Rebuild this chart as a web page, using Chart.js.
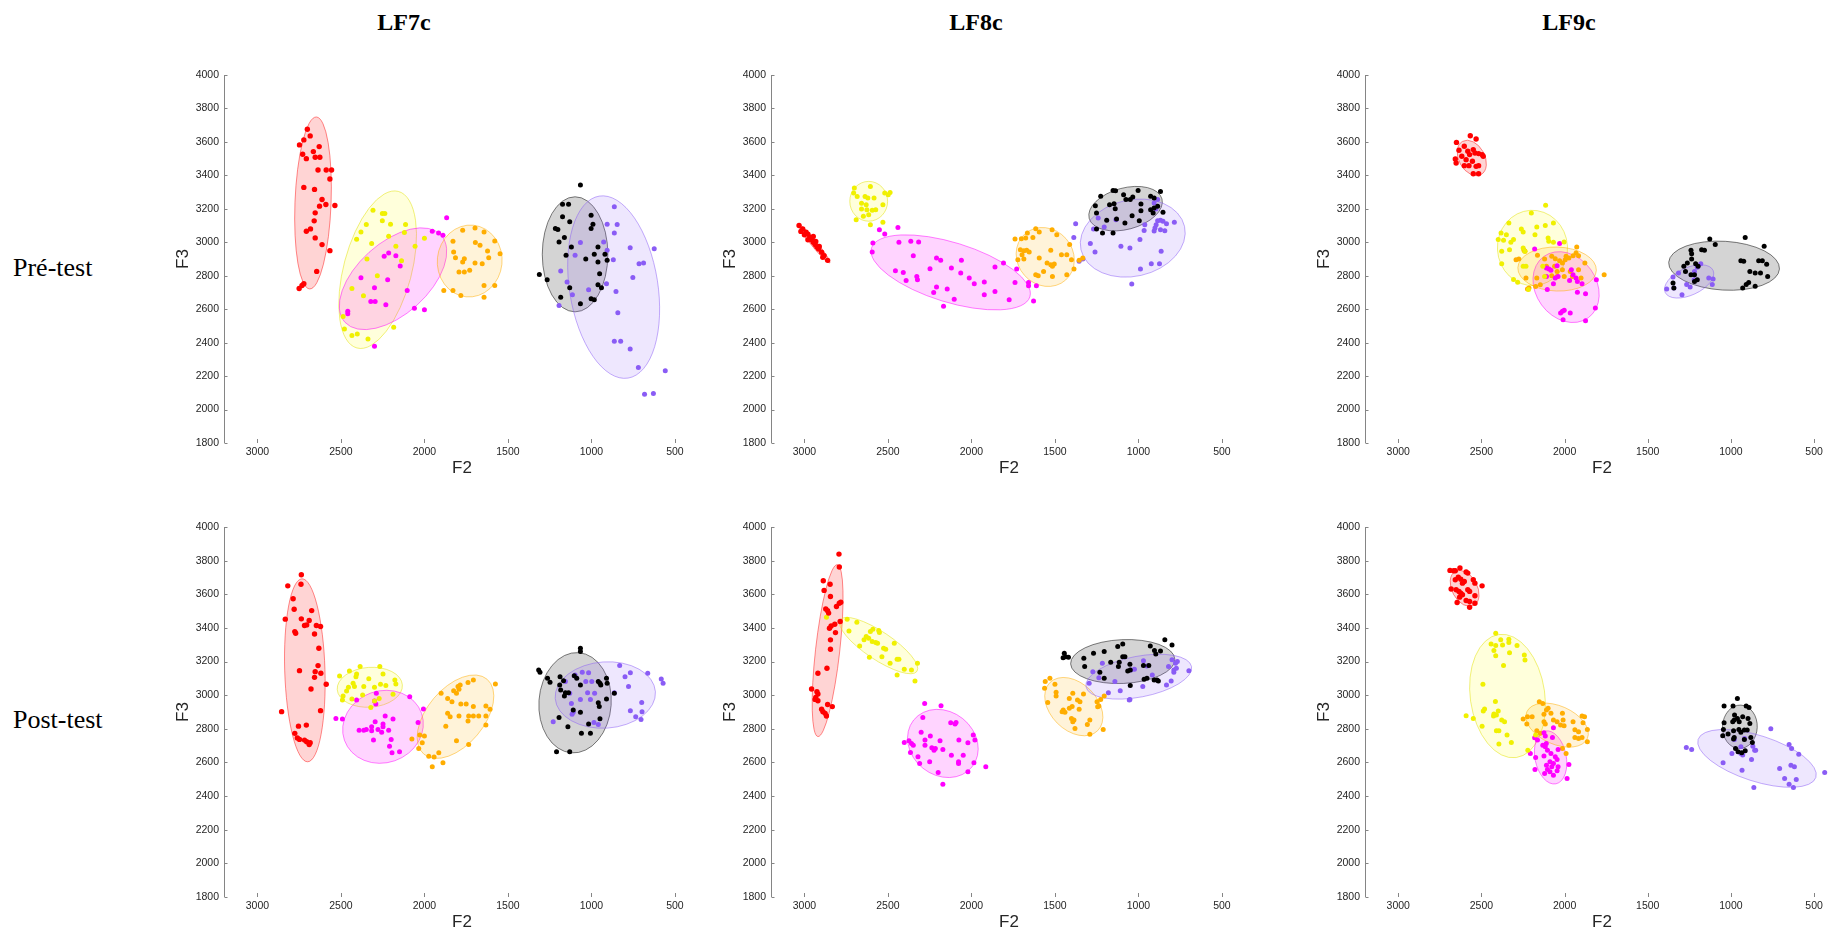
<!DOCTYPE html>
<html>
<head>
<meta charset="utf-8">
<script src="https://cdn.jsdelivr.net/npm/chart.js@4.4.0/dist/chart.umd.min.js"></script>
<style>
  html, body { margin: 0; padding: 0; background: #fff; }
  body { width: 1843px; height: 938px; position: relative; overflow: hidden; }
  .panel { position: absolute; }
  .title { position: absolute; font-family: "Liberation Serif", "Times New Roman", serif; font-weight: bold; font-size: 24px; line-height: 1; transform: translate(-50%, -50%); white-space: nowrap; color: #000; }
  .row { position: absolute; font-family: "Liberation Serif", "Times New Roman", serif; font-size: 26px; line-height: 1; transform: translateY(-50%); white-space: nowrap; color: #000; }
</style>
</head>
<body>
<div class="title" style="left:404px; top:22px;">LF7c</div>
<div class="title" style="left:976px; top:22px;">LF8c</div>
<div class="title" style="left:1569px; top:22px;">LF9c</div>
<div class="row" style="left:13px; top:268px;">Pré-test</div>
<div class="row" style="left:13px; top:720px;">Post-test</div>
<script>
// axis ticks
const f2Ticks = [3000, 2500, 2000, 1500, 1000, 500];
const f3Ticks = [1800, 2000, 2200, 2400, 2600, 2800, 3000, 3200, 3400, 3600, 3800, 4000];

// series order in every panel: red, yellow, magenta, orange, black, purple
const pointColors = ['#ff0000', '#f0f000', '#ff00ff', '#ffad00', '#000000', '#8a5cf5'];
const ellipseFill = ['rgba(255,0,0,0.17)', 'rgba(255,255,0,0.14)', 'rgba(255,0,255,0.17)', 'rgba(255,173,0,0.15)', 'rgba(0,0,0,0.17)', 'rgba(138,92,245,0.15)'];
const ellipseLine = ['rgba(255,0,0,0.45)', 'rgba(225,225,0,0.5)', 'rgba(255,0,255,0.5)', 'rgba(255,173,0,0.5)', 'rgba(0,0,0,0.5)', 'rgba(138,92,245,0.5)'];

// ellipses: [centreF2, centreF3, majorEndF2, majorEndF3, minor/major ratio]

// ---- LF7c, pre-test ----
const lf7cPreRed = [[2748,3582],[2722,3612],[2684,3636],[2701,3676],[2729,3526],[2707,3500],[2665,3542],[2654,3508],[2626,3508],[2630,3572],[2637,3432],[2588,3432],[2556,3432],[2566,3378],[2722,3328],[2658,3316],[2613,3256],[2536,3220],[2628,3216],[2590,3226],[2654,3176],[2660,3128],[2707,3066],[2682,3080],[2654,3026],[2613,2986],[2566,2950],[2645,2826],[2750,2724],[2733,2742],[2722,2752]];
const lf7cPreYellow = [[2308,3192],[2252,3172],[2237,3172],[2252,3128],[2203,3108],[2113,3106],[2348,3106],[2380,3062],[2406,3018],[2214,3036],[2120,3058],[2000,3024],[2056,2976],[2171,2976],[2344,2900],[2137,2890],[2282,2800],[2434,2724],[2365,2680],[2487,2556],[2479,2482],[2434,2442],[2402,2452],[2338,2422],[2184,2492],[2316,2992]];
const lf7cPreMagenta = [[1867,3146],[1953,3066],[1915,3056],[1889,3042],[2241,2916],[2214,2936],[2171,2920],[2145,2858],[2380,2788],[2220,2776],[2299,2728],[2103,2712],[2321,2646],[2295,2646],[2231,2626],[2060,2606],[2000,2596],[2459,2588],[2459,2572],[2299,2378]];
const lf7cPreOrange = [[1771,3072],[1697,3086],[1829,3006],[1643,3062],[1579,3008],[1695,2998],[1667,2982],[1825,2942],[1814,2908],[1761,2902],[1771,2882],[1622,2948],[1615,2908],[1547,2932],[1697,2876],[1654,2872],[1793,2822],[1761,2822],[1729,2832],[1643,2742],[1579,2742],[1884,2712],[1829,2712],[1782,2682],[1643,2672]];
const lf7cPreBlack = [[1066,3342],[1173,3228],[1137,3228],[1173,3152],[1130,3122],[1216,3082],[1201,3076],[1162,3028],[1194,3002],[1002,3162],[991,3108],[1002,3082],[1120,2972],[961,2972],[983,2928],[919,2928],[1152,2922],[1034,2900],[961,2882],[906,2892],[1312,2808],[1265,2776],[951,2812],[940,2728],[961,2746],[1130,2728],[1184,2672],[1002,2662],[983,2656],[1066,2632]];
const lf7cPrePurple = [[863,3212],[906,3108],[846,3106],[863,3056],[927,3002],[1066,2998],[768,2968],[624,2962],[906,2952],[1098,2922],[869,2896],[1184,2828],[715,2872],[688,2876],[752,2790],[1146,2762],[910,2752],[1114,2686],[853,2706],[1017,2716],[1194,2622],[842,2578],[863,2408],[825,2408],[768,2362],[719,2252],[558,2232],[682,2092],[629,2096]];
const lf7cPreEllipses = [[2667,3235,2647,3749,0.21],[2280,2836,2156,3304,0.42],[2188,2782,1900,3042,0.55],[1729,2888,1707,3102,0.9],[1098,2928,1098,3272,0.57],[867,2732,953,3276,0.48]];

// ---- LF8c, pre-test ----
const lf8cPreRed = [[3032,3100],[3021,3065],[3000,3045],[2979,3049],[2968,3031],[2957,3015],[2947,3000],[2936,2986],[2925,2972],[2915,2960],[2897,2940],[2882,2920],[2861,2892],[2979,3015],[2947,3035],[2932,3005],[2911,2975],[3010,3080],[2990,3060],[2890,2910]];
const lf8cPreYellow = [[2701,3324],[2705,3294],[2605,3334],[2684,3274],[2637,3274],[2620,3264],[2583,3264],[2519,3294],[2498,3284],[2487,3298],[2658,3234],[2630,3225],[2530,3225],[2658,3199],[2626,3195],[2594,3191],[2573,3195],[2647,3155],[2615,3165],[2690,3135],[2605,3105],[2530,3119]];
const lf8cPreMagenta = [[2551,3075],[2519,3049],[2440,3089],[2590,2996],[2594,2942],[2434,3000],[2363,3006],[2316,3002],[2348,2920],[2209,2906],[2184,2892],[2060,2892],[2248,2842],[2455,2830],[2408,2820],[2327,2796],[2323,2776],[2391,2772],[2120,2846],[2064,2816],[2013,2786],[1983,2752],[1923,2762],[1859,2852],[1808,2876],[2209,2732],[2226,2700],[2145,2720],[2103,2660],[1923,2686],[1859,2706],[1774,2657],[2167,2617],[1739,2760],[1658,2760],[1658,2740],[1729,2840],[1611,2740],[1628,2649]];
const lf8cPreOrange = [[1739,3019],[1701,3021],[1675,3025],[1665,3055],[1615,3081],[1632,3029],[1594,3061],[1517,3075],[1489,3045],[1412,2986],[1707,2956],[1686,2950],[1669,2952],[1654,2942],[1697,2926],[1686,2900],[1722,2896],[1594,2906],[1525,2952],[1461,2926],[1429,2926],[1547,2876],[1525,2866],[1504,2870],[1515,2856],[1401,2896],[1386,2840],[1429,2806],[1615,2806],[1600,2800],[1568,2826],[1515,2796],[1355,2892],[1333,2906]];
const lf8cPreBlack = [[1226,3275],[1152,3310],[1137,3308],[1089,3284],[1034,3271],[1002,3310],[927,3275],[906,3265],[868,3304],[1258,3219],[1251,3175],[1173,3225],[1146,3231],[1139,3201],[1075,3255],[1049,3255],[985,3229],[985,3189],[927,3195],[906,3205],[885,3215],[912,3175],[853,3179],[1190,3131],[1131,3139],[1081,3115],[1038,3159],[995,3129],[1251,3079],[1215,3055],[1152,3055]];
const lf8cPrePurple = [[1376,3111],[1387,3029],[1269,3079],[1241,3145],[1205,3091],[1135,3135],[1288,2992],[1260,2942],[1355,2886],[1333,2900],[1105,2976],[1051,2966],[991,3016],[966,3071],[906,3067],[962,3105],[901,3085],[894,3105],[885,3129],[868,3131],[853,3125],[832,3111],[785,3119],[906,3235],[885,3255],[896,3199],[868,3075],[842,3069],[864,2946],[988,2840],[923,2872],[874,2872],[1040,2750]];
const lf8cPreEllipses = [[2942,2992,3036,3107,0.12],[2615,3245,2615,3364,0.95],[2124,2820,2598,2966,0.36],[1558,2912,1680,3050,0.9],[1077,3201,859,3259,0.55],[1034,3025,724,3095,0.72]];

// ---- LF9c, pre-test ----
const lf9cPreRed = [[2650,3597],[2567,3637],[2532,3617],[2635,3550],[2603,3574],[2582,3544],[2571,3524],[2549,3554],[2539,3534],[2517,3530],[2496,3524],[2489,3514],[2618,3514],[2592,3494],[2657,3498],[2652,3474],[2554,3484],[2603,3458],[2575,3458],[2532,3454],[2517,3458],[2549,3410],[2517,3410]];
const lf9cPreYellow = [[2114,3221],[2200,3175],[2335,3115],[2260,3079],[2249,3061],[2167,3091],[2067,3115],[2116,3101],[2382,3055],[2350,3045],[2307,3016],[2323,3000],[2367,3012],[2399,3016],[2178,3045],[2099,3025],[2095,3006],[2067,3000],[2003,3002],[2249,2966],[2239,2946],[2378,2946],[2331,2956],[2378,2872],[2249,2856],[2232,2856],[2131,2856],[2307,2777],[2282,2761],[2217,2717],[2120,2796]];
const lf9cPreMagenta = [[2180,2960],[2030,2992],[2109,2846],[2094,2840],[2082,2832],[2045,2860],[1959,2836],[1949,2806],[1931,2786],[2109,2796],[2056,2786],[2039,2796],[2067,2752],[1970,2772],[1923,2766],[1895,2752],[2104,2717],[1923,2701],[1874,2693],[1809,2776],[1815,2607],[2013,2587],[2024,2577],[2002,2593],[1966,2577],[2009,2537],[1874,2531]];
const lf9cPreOrange = [[2238,2946],[2244,2952],[2292,2896],[2275,2900],[2163,2922],[2120,2900],[2077,2916],[2056,2902],[2030,2890],[2013,2876],[1996,2896],[1974,2906],[1949,2920],[1931,2936],[1927,2972],[1991,2916],[2109,2856],[2060,2856],[2045,2826],[2013,2836],[2077,2800],[2045,2796],[2002,2796],[1966,2826],[1953,2796],[1916,2836],[1901,2786],[1762,2806],[2232,2786],[2167,2786],[2174,2736],[2223,2721],[2214,2727],[2146,2746],[1916,2920],[1878,2876]];
const lf9cPreBlack = [[1127,3019],[1094,2986],[914,3029],[800,2976],[1240,2952],[1236,2932],[1176,2956],[1159,2952],[1236,2900],[1283,2856],[1262,2876],[1212,2872],[1197,2856],[1273,2826],[1240,2806],[1219,2806],[1219,2766],[1202,2776],[1348,2756],[1343,2727],[940,2890],[923,2886],[833,2890],[811,2890],[785,2868],[886,2826],[854,2816],[822,2816],[779,2796],[893,2760],[908,2747],[929,2727],[854,2737]];
const lf9cPrePurple = [[1386,2721],[1348,2792],[1315,2816],[1343,2727],[1294,2687],[1266,2747],[1245,2733],[1219,2826],[1202,2850],[1181,2872],[1133,2786],[1112,2747],[1107,2780],[1221,2776]];
const lf9cPreEllipses = [[2558,3504,2614,3603,0.68],[2193,2966,2206,3191,0.93],[1991,2732,2125,2915,0.8],[2045,2840,1809,2832,0.56],[1041,2860,708,2840,0.44],[1251,2766,1107,2832,0.52]];

// ---- LF7c, post-test ----
const lf7cPostRed = [[2737,3716],[2739,3660],[2818,3650],[2786,3573],[2780,3511],[2833,3452],[2737,3454],[2718,3414],[2705,3418],[2690,3444],[2675,3503],[2776,3378],[2771,3368],[2658,3364],[2647,3414],[2622,3408],[2632,3279],[2637,3176],[2748,3146],[2654,3140],[2620,3130],[2658,3106],[2588,3065],[2679,3037],[2622,2908],[2855,2902],[2707,2822],[2754,2816],[2776,2773],[2761,2745],[2748,2737],[2718,2733],[2705,2723],[2684,2717],[2690,2707]];
const lf7cPostYellow = [[2508,3114],[2449,3144],[2385,3170],[2267,3170],[2248,3126],[2406,3126],[2410,3110],[2427,3071],[2419,3051],[2455,3047],[2466,3025],[2363,3051],[2333,3097],[2299,3047],[2263,3065],[2231,3057],[2177,3091],[2171,3067],[2370,3001],[2487,2995],[2491,2971],[2434,2977],[2299,2965],[2271,2981],[2188,3005],[2321,2927]];
const lf7cPostMagenta = [[2288,3011],[2299,2965],[2291,2947],[2406,2971],[2088,2991],[2006,2918],[2530,2862],[2491,2858],[2391,2792],[2363,2792],[2348,2796],[2316,2812],[2295,2842],[2248,2828],[2248,2812],[2188,2858],[2235,2876],[2278,2796],[2256,2779],[2316,2788],[2214,2792],[2305,2733],[2199,2737],[2038,2838],[2209,2697],[2194,2657],[2149,2663]];
const lf7cPostOrange = [[1707,3090],[1739,3075],[1799,3051],[1786,3061],[1793,3035],[1825,3027],[1808,3011],[1575,3067],[1900,3011],[1861,2981],[1835,2961],[1782,2947],[1750,2947],[1707,2932],[1632,2935],[1607,2916],[1861,2892],[1846,2872],[1793,2876],[1735,2876],[1707,2876],[1675,2876],[1632,2876],[1739,2846],[1872,2816],[1632,2822],[2075,2739],[2028,2763],[2000,2757],[2013,2717],[2034,2683],[1808,2729],[1735,2707],[1914,2657],[1974,2637],[1942,2633],[1889,2598],[1953,2574]];
const lf7cPostBlack = [[1316,3150],[1308,3136],[1066,3279],[1066,3259],[1263,3100],[1248,3077],[1188,3110],[1167,3086],[1103,3116],[1088,3100],[1190,3061],[1184,3031],[1162,2995],[1156,3015],[1137,3015],[1066,3061],[959,3081],[949,3071],[944,3061],[910,3100],[906,3071],[863,3011],[910,2977],[959,2955],[953,2932],[1109,2912],[1066,2898],[1194,2868],[1141,2812],[949,2860],[1017,2828],[1060,2773],[1006,2773],[1209,2663],[1130,2663]];
const lf7cPostPurple = [[1156,3081],[1098,3120],[1055,3136],[1017,3134],[1034,3081],[998,3081],[1130,3011],[1023,3015],[981,3011],[1066,2975],[1006,2975],[1120,2951],[1116,2886],[1109,2898],[1229,2842],[985,2838],[959,2826],[831,3176],[767,3134],[799,3110],[778,3051],[863,3015],[663,3130],[582,3096],[571,3071],[699,2957],[767,2908],[735,2872],[697,2902],[703,2856]];
const lf7cPostEllipses = [[2716,3148,2733,3692,0.22],[2327,3047,2132,3061,0.61],[2248,2812,2017,2892,0.88],[1814,2872,1625,3095,0.58],[1098,2955,1077,3253,0.72],[917,3001,617,3021,0.66]];

// ---- LF8c, post-test ----
const lf8cPostRed = [[2793,3839],[2791,3762],[2887,3680],[2846,3660],[2882,3623],[2844,3587],[2872,3513],[2861,3502],[2855,3488],[2808,3527],[2791,3547],[2782,3553],[2840,3412],[2850,3398],[2818,3422],[2814,3372],[2786,3438],[2844,3329],[2844,3273],[2865,3160],[2919,3130],[2957,3037],[2925,3021],[2919,3007],[2932,2987],[2936,2975],[2919,2967],[2861,2945],[2833,2932],[2897,2916],[2889,2902],[2876,2892],[2868,2876]];
const lf8cPostYellow = [[2868,3464],[2744,3452],[2733,3382],[2686,3434],[2669,3293],[2643,3329],[2630,3349],[2605,3378],[2590,3392],[2615,3339],[2594,3319],[2555,3384],[2551,3372],[2573,3313],[2562,3309],[2526,3279],[2513,3273],[2536,3229],[2611,3225],[2462,3309],[2445,3213],[2434,3213],[2487,3190],[2402,3154],[2445,3120],[2359,3150],[2323,3190],[2338,3084]];
const lf8cPostMagenta = [[2280,2951],[2182,2937],[2291,2868],[2301,2779],[2374,2729],[2359,2713],[2348,2703],[2402,2719],[2278,2733],[2278,2703],[2246,2757],[2188,2729],[2237,2687],[2224,2673],[2216,2683],[2171,2677],[2365,2659],[2320,2634],[2310,2594],[2250,2604],[2124,2836],[2098,2828],[2092,2838],[2075,2733],[2120,2643],[2077,2604],[2077,2594],[2049,2643],[2021,2717],[1989,2763],[1979,2733],[1985,2598],[2021,2544],[2199,2540],[2171,2471],[1914,2574]];
const lf8cPostOrange = [[1530,3100],[1558,3081],[1562,3041],[1500,3065],[1543,2957],[1493,3017],[1493,2995],[1414,2981],[1393,3011],[1329,3007],[1365,2971],[1350,2961],[1450,2912],[1457,2902],[1440,2898],[1414,2922],[1397,2932],[1401,2862],[1386,2852],[1393,2842],[1355,2916],[1380,2802],[1291,2852],[1306,2826],[1291,2767],[1248,2961],[1237,2935],[1244,2931],[1226,2975],[1205,2995],[1211,2796]];
const lf8cPostBlack = [[1444,3249],[1436,3229],[1451,3223],[1419,3225],[1327,3219],[1269,3249],[1205,3259],[1124,3289],[1094,3305],[1094,3229],[1081,3229],[929,3293],[904,3265],[842,3329],[799,3299],[868,3263],[896,3245],[1166,3196],[1115,3196],[1120,3170],[1051,3184],[970,3176],[938,3176],[1322,3170],[1231,3136],[1205,3100],[1064,3144],[1049,3150],[1049,3057],[966,3094],[949,3100],[906,3090],[889,3090],[881,3084]];
const lf8cPostPurple = [[1216,3190],[1273,3140],[1295,3071],[1237,3104],[1180,3015],[1141,3081],[1109,3027],[1045,3150],[1024,3154],[1051,2975],[1055,2971],[970,3204],[949,3174],[974,3051],[917,3120],[832,3061],[804,3084],[820,3170],[799,3210],[778,3190],[767,3200],[788,3150],[773,3160],[788,3136],[698,3146]];
const lf8cPostEllipses = [[2861,3265,2803,3776,0.14],[2556,3295,2786,3448,0.3],[2171,2713,1996,2574,0.85],[1387,2932,1530,3075,0.69],[1094,3200,782,3214,0.42],[998,3110,682,3170,0.38]];

// ---- LF9c, post-test ----
const lf9cPostRed = [[2689,3742],[2667,3740],[2657,3740],[2629,3756],[2592,3732],[2582,3726],[2639,3702],[2624,3690],[2657,3686],[2614,3666],[2603,3676],[2549,3686],[2539,3666],[2496,3650],[2682,3631],[2652,3627],[2635,3617],[2624,3607],[2582,3627],[2571,3617],[2539,3591],[2646,3551],[2592,3563],[2571,3557],[2539,3547],[2571,3523],[2614,3597],[2631,3583]];
const lf9cPostYellow = [[2414,3368],[2442,3305],[2414,3295],[2384,3329],[2373,3299],[2335,3333],[2335,3313],[2425,3265],[2414,3235],[2331,3253],[2286,3295],[2367,3176],[2242,3239],[2238,3209],[2491,3065],[2481,2918],[2489,2906],[2416,2963],[2399,2906],[2410,2882],[2425,2888],[2427,2876],[2592,2878],[2549,2862],[2496,2816],[2378,2852],[2361,2842],[2410,2789],[2395,2789],[2346,2763],[2395,2709],[2320,2719],[2221,2673],[2174,2763]];
const lf9cPostMagenta = [[2124,2777],[2116,2757],[2067,2806],[2073,2749],[2180,2747],[2163,2733],[2206,2653],[2174,2630],[2131,2703],[2116,2693],[2110,2713],[2103,2673],[2082,2653],[2124,2638],[2039,2677],[2056,2634],[2045,2618],[2088,2604],[2067,2594],[2077,2574],[2109,2584],[2039,2574],[2045,2550],[2103,2558],[2088,2544],[2120,2534],[2067,2524],[2178,2558],[1974,2588],[1985,2504]];
const lf9cPostOrange = [[2152,2961],[2131,2951],[2249,2858],[2223,2872],[2195,2872],[2227,2828],[2124,2886],[2109,2912],[2099,2922],[2082,2892],[2124,2842],[2116,2828],[2067,2852],[2045,2842],[2013,2892],[2009,2852],[2024,2822],[2003,2818],[1949,2842],[1895,2876],[1880,2872],[1889,2836],[1863,2796],[1938,2794],[1916,2783],[1938,2749],[1916,2743],[1895,2749],[1863,2723],[1974,2703],[2167,2789],[2146,2773],[2013,2683],[1991,2653]];
const lf9cPostBlack = [[961,2981],[1041,2935],[987,2935],[908,2935],[891,2927],[978,2882],[980,2852],[961,2862],[950,2842],[929,2872],[897,2862],[886,2832],[989,2842],[1041,2836],[1045,2796],[1049,2759],[1017,2769],[984,2789],[952,2796],[940,2779],[919,2793],[902,2793],[984,2739],[980,2749],[919,2737],[880,2749],[871,2719],[972,2683],[957,2663],[935,2657],[914,2669]];
const lf9cPostPurple = [[1268,2689],[1236,2677],[1047,2598],[994,2653],[979,2737],[940,2653],[929,2644],[918,2743],[940,2693],[876,2618],[933,2554],[868,2697],[857,2673],[851,2673],[862,2451],[760,2800],[707,2564],[677,2505],[650,2707],[635,2683],[650,2471],[639,2584],[618,2574],[607,2499],[624,2451],[592,2649],[436,2540]];
const lf9cPostEllipses = [[2601,3635,2657,3736,0.65],[2343,2995,2395,3361,0.6],[2084,2630,2116,2787,0.58],[2045,2822,1863,2743,0.58],[946,2812,940,2941,0.8],[843,2624,1197,2737,0.37]];

const panels = [
  { box: [224, 75, 700, 443],   series: [lf7cPreRed, lf7cPreYellow, lf7cPreMagenta, lf7cPreOrange, lf7cPreBlack, lf7cPrePurple], ellipses: lf7cPreEllipses },
  { box: [771, 75, 1247, 443],  series: [lf8cPreRed, lf8cPreYellow, lf8cPreMagenta, lf8cPreOrange, lf8cPreBlack, lf8cPrePurple], ellipses: lf8cPreEllipses },
  { box: [1365, 75, 1839, 443], series: [lf9cPreRed, lf9cPreYellow, lf9cPreMagenta, lf9cPreOrange, lf9cPreBlack, lf9cPrePurple], ellipses: lf9cPreEllipses },
  { box: [224, 527, 700, 897],   series: [lf7cPostRed, lf7cPostYellow, lf7cPostMagenta, lf7cPostOrange, lf7cPostBlack, lf7cPostPurple], ellipses: lf7cPostEllipses },
  { box: [771, 527, 1247, 897],  series: [lf8cPostRed, lf8cPostYellow, lf8cPostMagenta, lf8cPostOrange, lf8cPostBlack, lf8cPostPurple], ellipses: lf8cPostEllipses },
  { box: [1365, 527, 1839, 897], series: [lf9cPostRed, lf9cPostYellow, lf9cPostMagenta, lf9cPostOrange, lf9cPostBlack, lf9cPostPurple], ellipses: lf9cPostEllipses }
];

const AXIS_W = 60, AXIS_H = 40, PAD = 12;
const sansFont = '"Liberation Sans", Arial, sans-serif';

// draws the left axis line plus the small inward tick marks (matlab style)
const axisPlugin = {
  id: 'matlabAxis',
  beforeDatasetsDraw(chart) {
    const { ctx, chartArea: a, scales: { x, y } } = chart;
    ctx.save();
    ctx.strokeStyle = '#858585';
    ctx.lineWidth = 1;
    ctx.beginPath();
    const lx = Math.round(a.left) + 0.5;
    ctx.moveTo(lx, a.top);
    ctx.lineTo(lx, a.bottom);
    f3Ticks.forEach(v => {
      const py = Math.round(y.getPixelForValue(v)) + 0.5;
      ctx.moveTo(lx, py);
      ctx.lineTo(lx + 3, py);
    });
    f2Ticks.forEach(v => {
      const px = Math.round(x.getPixelForValue(v)) + 0.5;
      ctx.moveTo(px, a.bottom);
      ctx.lineTo(px, a.bottom - 4);
    });
    ctx.stroke();
    ctx.restore();
  }
};

function makeEllipsePlugin(list) {
  return {
    id: 'ellipses',
    beforeDatasetsDraw(chart) {
      const { ctx, scales: { x, y } } = chart;
      ctx.save();
      list.forEach((e, i) => {
        const [cx, cy, ex, ey, ratio] = e;
        const px = x.getPixelForValue(cx), py = y.getPixelForValue(cy);
        const qx = x.getPixelForValue(ex), qy = y.getPixelForValue(ey);
        const r = Math.hypot(qx - px, qy - py);
        const rot = Math.atan2(qy - py, qx - px);
        ctx.beginPath();
        ctx.ellipse(px, py, r, r * ratio, rot, 0, Math.PI * 2);
        ctx.fillStyle = ellipseFill[i];
        ctx.fill();
        ctx.strokeStyle = ellipseLine[i];
        ctx.lineWidth = 1;
        ctx.stroke();
      });
      ctx.restore();
    }
  };
}

panels.forEach(p => {
  const [l, t, r, b] = p.box;
  const w = (r - l) + AXIS_W + PAD;
  const h = (b - t) + AXIS_H + PAD;
  const div = document.createElement('div');
  div.className = 'panel';
  div.style.left = (l - AXIS_W) + 'px';
  div.style.top = (t - PAD) + 'px';
  div.style.width = w + 'px';
  div.style.height = h + 'px';
  const canvas = document.createElement('canvas');
  canvas.width = w;
  canvas.height = h;
  div.appendChild(canvas);
  document.body.appendChild(div);

  new Chart(canvas.getContext('2d'), {
    type: 'scatter',
    data: {
      datasets: p.series.map((pts, i) => ({
        data: pts.map(([f2, f3]) => ({ x: f2, y: f3 })),
        backgroundColor: pointColors[i],
        borderWidth: 0,
        pointRadius: i === 0 ? 2.7 : 2.5
      }))
    },
    options: {
      responsive: false,
      animation: false,
      events: [],
      layout: { padding: { left: 0, top: PAD, right: PAD, bottom: 0 } },
      plugins: { legend: { display: false }, tooltip: { enabled: false } },
      scales: {
        x: {
          type: 'linear',
          reverse: true,
          min: 350,
          max: 3200,
          afterBuildTicks: s => { s.ticks = f2Ticks.map(v => ({ value: v })); },
          afterFit: s => { s.height = AXIS_H; },
          grid: { display: false, drawTicks: false },
          border: { display: false },
          ticks: { autoSkip: false, maxRotation: 0, padding: 3, color: '#262626', font: { family: sansFont, size: 10.5 }, callback: v => String(v) },
          title: { display: true, text: 'F2', color: '#262626', font: { family: sansFont, size: 17 }, padding: { top: 0, bottom: 4 } }
        },
        y: {
          type: 'linear',
          min: 1800,
          max: 4000,
          afterBuildTicks: s => { s.ticks = f3Ticks.map(v => ({ value: v })); },
          afterFit: s => { s.width = AXIS_W; },
          grid: { display: false, drawTicks: false },
          border: { display: false },
          ticks: { padding: 5, color: '#262626', font: { family: sansFont, size: 10.5 }, callback: v => String(v) },
          title: { display: true, text: 'F3', color: '#262626', font: { family: sansFont, size: 17 }, padding: { top: 9, bottom: 0 } }
        }
      }
    },
    plugins: [makeEllipsePlugin(p.ellipses), axisPlugin]
  });
});
</script>
</body>
</html>
